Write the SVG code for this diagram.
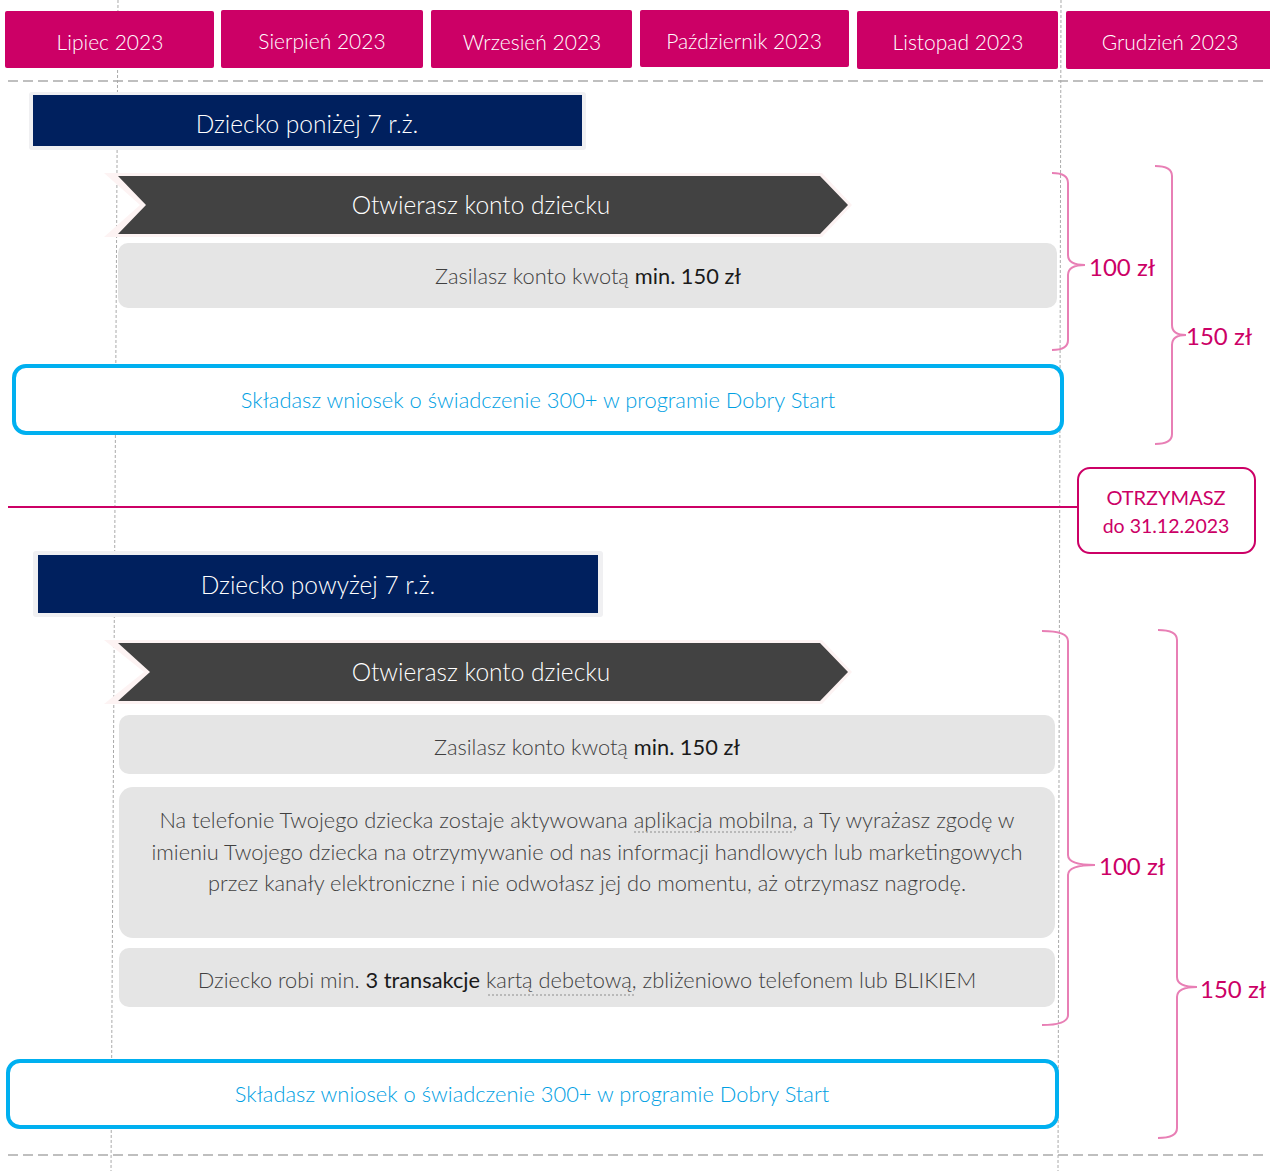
<svg xmlns="http://www.w3.org/2000/svg" width="1270" height="1171" viewBox="0 0 1270 1171">
<style>
text{font-family:Lato,"Open Sans","Liberation Sans",sans-serif;font-weight:300;text-anchor:middle;dominant-baseline:central}
.month rect{fill:#cc0066}
.month text{fill:#fff;font-size:21px}
.navy rect.o{fill:#f0f0f2}
.navy rect.i{fill:#00205e}
.navy text{fill:#fff;font-size:24.5px}
.arrow polygon.o{fill:#fdf3f3}
.arrow polygon.i{fill:#424242}
.arrow text{fill:#fff;font-size:24.5px}
.gray rect{fill:#e5e5e5}
.gray text{fill:#404040;font-size:21.8px}
.b{font-weight:400;fill:#1a1a1a}
.blue rect{fill:#fff;stroke:#00b0f0;stroke-width:4}
.blue text{fill:#00a0e3;font-size:21.9px}
.brace{fill:none;stroke:#e87fb5;stroke-width:2}
.amt{fill:#cc0066;font-size:24px;text-anchor:start;font-weight:400}
.dash{stroke:#aaa;stroke-width:1.5;stroke-dasharray:10 5}
.vdot{stroke:#aaa;stroke-width:1;stroke-dasharray:3 2}
.dotu{stroke:#aaa;stroke-width:1.5;stroke-dasharray:2 2}
</style>
<rect width="1270" height="1171" fill="#fff"/>
<g id="gridlines">
<line class="vdot" x1="118" y1="0" x2="111" y2="1171"/>
<line class="vdot" x1="1061" y1="0" x2="1058" y2="1171"/>
<line class="dash" x1="8" y1="81" x2="1268" y2="81"/>
<line class="dash" x1="8" y1="1155" x2="1268" y2="1155"/>
</g>
<g id="months">
<g id="m-lipiec" class="month"><rect x="5" y="11" width="209" height="57" rx="2"/><text x="110" y="41">Lipiec 2023</text></g>
<g id="m-sierpien" class="month"><rect x="221" y="10" width="202" height="58" rx="2"/><text x="322" y="40">Sierpień 2023</text></g>
<g id="m-wrzesien" class="month"><rect x="431" y="10" width="201" height="58" rx="2"/><text x="532" y="41">Wrzesień 2023</text></g>
<g id="m-pazdziernik" class="month"><rect x="640" y="10" width="209" height="57" rx="2"/><text x="744" y="40">Październik 2023</text></g>
<g id="m-listopad" class="month"><rect x="857" y="11" width="201" height="58" rx="2"/><text x="958" y="41">Listopad 2023</text></g>
<g id="m-grudzien" class="month"><rect x="1066" y="11" width="206" height="58" rx="2"/><text x="1170" y="41">Grudzień 2023</text></g>
</g>
<g id="connectors">
<line x1="8" y1="507" x2="1078" y2="507" stroke="#cc0066" stroke-width="2"/>
<path class="brace" d="M1052 173 Q1068 173 1068 183 L1068 255 Q1068 265 1085 265 Q1068 265 1068 275 L1068 340 Q1068 350 1052 350"/>
<path class="brace" d="M1155 166 Q1172 166 1172 176 L1172 325 Q1172 335 1186 335 Q1172 335 1172 345 L1172 434 Q1172 444 1155 444"/>
<path class="brace" d="M1042 631 Q1068 631 1068 641 L1068 855 Q1068 865 1095 865 Q1068 865 1068 875 L1068 1015 Q1068 1025 1042 1025"/>
<path class="brace" d="M1158 630 Q1177 630 1177 640 L1177 977 Q1177 987 1197 987 Q1177 987 1177 997 L1177 1128 Q1177 1138 1158 1138"/>
</g>
<g id="amounts">
<text class="amt" x="1089" y="266">100 zł</text>
<text class="amt" x="1186" y="335">150 zł</text>
<text class="amt" x="1099" y="865">100 zł</text>
<text class="amt" x="1200" y="988">150 zł</text>
</g>
<g id="n-ponizej" class="navy"><rect class="o" x="29" y="92" width="557" height="58" rx="3"/><rect class="i" x="33" y="95" width="549" height="51"/><text x="307" y="123">Dziecko poniżej 7 r.ż.</text></g>
<g id="n-otwierasz1" class="arrow"><polygon class="o" points="104,173 822,173 852,205 822,237 104,237 140,205"/><polygon class="i" points="118,176 820,176 848,205 820,234 118,234 146,205"/><text x="481" y="204">Otwierasz konto dziecku</text></g>
<g id="n-zasilasz1" class="gray"><rect x="118" y="243" width="939" height="65" rx="10"/><text x="588" y="275">Zasilasz konto kwotą <tspan class="b">min. 150 zł</tspan></text></g>
<g id="n-wniosek1" class="blue"><rect x="14" y="366" width="1048" height="67" rx="12"/><text x="538" y="399">Składasz wniosek o świadczenie 300+ w programie Dobry Start</text></g>
<g id="n-otrzymasz"><rect x="1078" y="468" width="177" height="85" rx="12" fill="#fff" stroke="#cc0066" stroke-width="2"/><text x="1166" y="497" fill="#cc0066" font-size="20" style="font-weight:400">OTRZYMASZ</text><text x="1166" y="525" fill="#cc0066" font-size="19.5" style="font-weight:400">do 31.12.2023</text></g>
<g id="n-powyzej" class="navy"><rect class="o" x="33" y="551" width="570" height="66" rx="3"/><rect class="i" x="38" y="555" width="560" height="58"/><text x="318" y="584">Dziecko powyżej 7 r.ż.</text></g>
<g id="n-otwierasz2" class="arrow"><polygon class="o" points="104,640 822,640 852,672 822,704 104,704 144,672"/><polygon class="i" points="118,643 820,643 848,672 820,701 118,701 150,672"/><text x="481" y="671">Otwierasz konto dziecku</text></g>
<g id="n-zasilasz2" class="gray"><rect x="119" y="715" width="936" height="59" rx="10"/><text x="587" y="746">Zasilasz konto kwotą <tspan class="b">min. 150 zł</tspan></text></g>
<g id="n-aplikacja" class="gray"><rect x="119" y="787" width="936" height="151" rx="14"/>
<text x="587" y="819">Na telefonie Twojego dziecka zostaje aktywowana aplikacja mobilna, a Ty wyrażasz zgodę w</text>
<text x="587" y="851">imieniu Twojego dziecka na otrzymywanie od nas informacji handlowych lub marketingowych</text>
<text x="587" y="882">przez kanały elektroniczne  i nie odwołasz jej do momentu, aż otrzymasz nagrodę.</text>
<line class="dotu" x1="634" y1="832" x2="792" y2="832"/></g>
<g id="n-transakcje" class="gray"><rect x="119" y="948" width="936" height="59" rx="10"/><text x="587" y="979">Dziecko robi min. <tspan class="b">3 transakcje</tspan> kartą debetową, zbliżeniowo telefonem lub BLIKIEM</text><line class="dotu" x1="488" y1="995" x2="636" y2="995"/></g>
<g id="n-wniosek2" class="blue"><rect x="8" y="1061" width="1049" height="66" rx="12"/><text x="532" y="1093">Składasz wniosek o świadczenie 300+ w programie Dobry Start</text></g>
</svg>
